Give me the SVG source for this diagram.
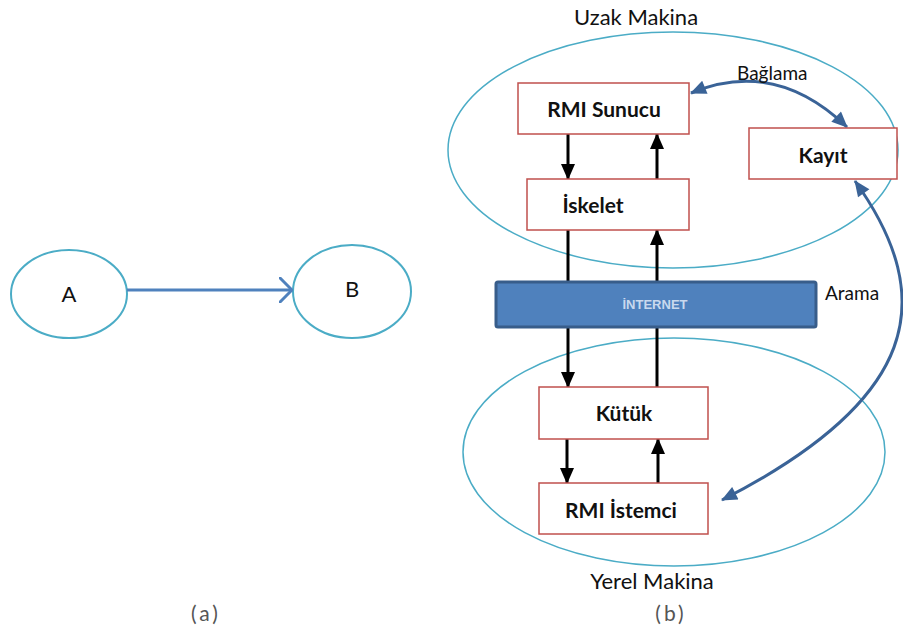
<svg xmlns="http://www.w3.org/2000/svg" width="903" height="632" viewBox="0 0 903 632">
<defs>
<style>
.ell{fill:none;stroke:#4BACC6;stroke-width:1.5}
.ellw{fill:#fff;stroke:#4BACC6;stroke-width:2}
.box{fill:#fff;stroke:#C0504D;stroke-width:1.5}
.lbl{font-family:Lato,"Open Sans",sans-serif;font-size:22px;fill:#111}
.blbl{font-family:Lato,"Open Sans",sans-serif;font-size:21px;font-weight:bold;fill:#111;text-anchor:middle}
.sm{font-family:Lato,"Open Sans",sans-serif;font-size:19px;fill:#111}
.cap{font-family:Lato,"Open Sans",sans-serif;font-size:21px;fill:#555;text-anchor:middle;letter-spacing:3px}
.blk{fill:none;stroke:#000;stroke-width:3}
.blu{fill:none;stroke:#3A6397;stroke-width:3}
</style>
<marker id="ah" viewBox="0 0 16 14" refX="15" refY="7" markerWidth="16" markerHeight="14" markerUnits="userSpaceOnUse" orient="auto-start-reverse"><path d="M0,0 L16,7 L0,14 Z" fill="#000"/></marker>
<marker id="bh" viewBox="0 0 16 14" refX="15" refY="7" markerWidth="17" markerHeight="14" markerUnits="userSpaceOnUse" orient="auto-start-reverse"><path d="M0,0 L16,7 L0,14 Z" fill="#3A6397"/></marker>
<marker id="oh" viewBox="0 0 14 26" refX="13" refY="13" markerWidth="14" markerHeight="26" markerUnits="userSpaceOnUse" orient="auto"><path d="M1,1 L13,13 L1,25" fill="none" stroke="#4F81BD" stroke-width="3" stroke-linecap="round"/></marker>
</defs>

<!-- (a) -->
<g id="nodeA"><ellipse class="ellw" cx="69" cy="294" rx="58" ry="44"/><text x="69" y="302" class="lbl" text-anchor="middle">A</text></g>
<g id="nodeB"><ellipse class="ellw" cx="352" cy="291.5" rx="59" ry="46.5"/><text x="352" y="297" class="lbl" text-anchor="middle">B</text></g>
<text x="206" y="621" class="cap">(a)</text>

<!-- (b) machines -->
<g id="uzak"><ellipse class="ell" cx="673" cy="150" rx="225" ry="118"/><text x="636" y="25" class="lbl" text-anchor="middle">Uzak Makina</text></g>
<g id="yerel"><ellipse class="ell" cx="674" cy="452" rx="211" ry="114"/><text x="652" y="589" class="lbl" text-anchor="middle">Yerel Makina</text></g>
<text x="671" y="621" class="cap">(b)</text>

<g id="connectors">
<line class="blk" x1="568" y1="134" x2="568" y2="179" marker-end="url(#ah)"/>
<line class="blk" x1="657" y1="179" x2="657" y2="134" marker-end="url(#ah)"/>
<line class="blk" x1="568" y1="230" x2="568" y2="387" marker-end="url(#ah)"/>
<line class="blk" x1="657" y1="387" x2="657" y2="230" marker-end="url(#ah)"/>
<line class="blk" x1="567" y1="439" x2="567" y2="483" marker-end="url(#ah)"/>
<line class="blk" x1="658" y1="483" x2="658" y2="439" marker-end="url(#ah)"/>
<path class="blu" d="M691,93 Q775,58 847,127" marker-start="url(#bh)" marker-end="url(#bh)"/>
<path class="blu" d="M855,181 C940,300 918,400 722,500" marker-start="url(#bh)" marker-end="url(#bh)"/>
<line x1="127" y1="290" x2="292" y2="290" stroke="#4F81BD" stroke-width="3" marker-end="url(#oh)"/>
</g>
<text x="737" y="80" class="sm">Bağlama</text>
<text x="825" y="300" class="sm">Arama</text>

<g id="internet"><rect x="496" y="282" width="320" height="45" rx="2" fill="#4F81BD" stroke="#385D8A" stroke-width="3"/><text x="655" y="309" font-family="'Liberation Sans',Arial,sans-serif" font-size="13" font-weight="bold" fill="#C9D9EE" text-anchor="middle">İNTERNET</text></g>

<g id="sunucu"><rect class="box" x="518" y="83" width="171" height="51"/><text x="604" y="117" class="blbl">RMI Sunucu</text></g>
<g id="kayit"><rect class="box" x="749" y="128" width="148" height="51"/><text x="823" y="163" class="blbl">Kayıt</text></g>
<g id="iskelet"><rect class="box" x="527" y="179" width="162" height="51"/><text x="593" y="213" class="blbl">İskelet</text></g>
<g id="kutuk"><rect class="box" x="539" y="387" width="169" height="52"/><text x="624" y="421" class="blbl">Kütük</text></g>
<g id="istemci"><rect class="box" x="539" y="483" width="169" height="51"/><text x="621" y="518" class="blbl">RMI İstemci</text></g>
</svg>
